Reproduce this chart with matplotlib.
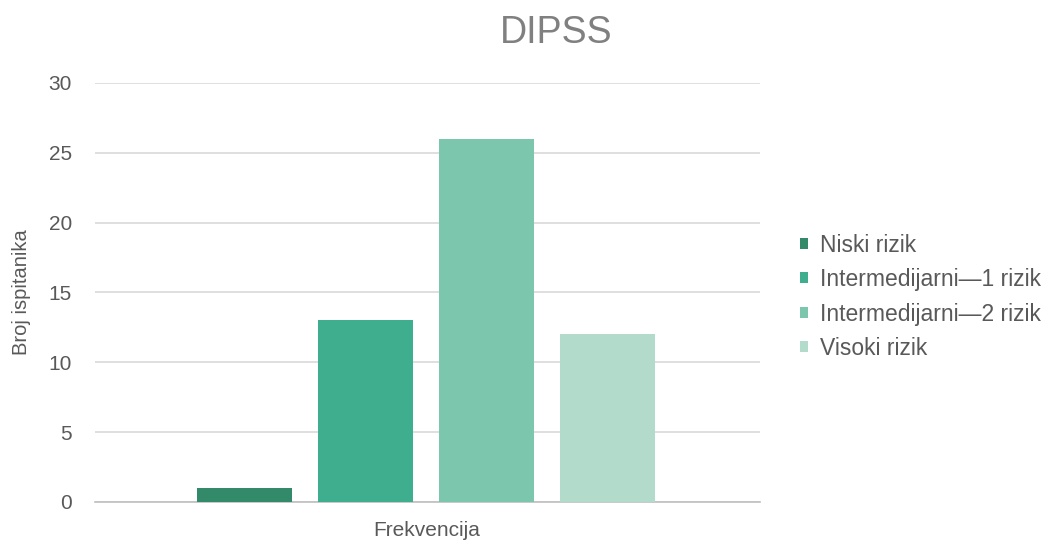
import matplotlib
matplotlib.use("Agg")
import matplotlib.pyplot as plt
from matplotlib.patches import Patch

plt.rcParams['font.family'] = ['Liberation Sans', 'DejaVu Sans']

title = "DIPSS"
category = "Frekvencija"
series = ["Niski rizik", "Intermedijarni\u20141 rizik", "Intermedijarni\u20142 rizik", "Visoki rizik"]
values = [1, 13, 26, 12]
colors = ["#338a6b", "#3fae8e", "#7cc6ad", "#b2dbcb"]
y_label = "Broj ispitanika"

fig = plt.figure(figsize=(10.58, 5.58), dpi=100)
ax = fig.add_axes([0.0898, 0.1004, 0.6285, 0.7509])

n = len(series)
width = 0.785
for i, (s, v, c) in enumerate(zip(series, values, colors)):
    ax.bar(i - (n - 1) / 2, v, width=width, color=c, label=s, zorder=3)

ax.set_xlim(-2.74, 2.76)
ax.set_ylim(0, 30)
ax.set_yticks(range(0, 31, 5))
ax.yaxis.grid(True, color="#d9d9d9", linewidth=1.2, zorder=0)
ax.set_xticks([0])
ax.set_xticklabels([category])
for sp in ["top", "right", "left"]:
    ax.spines[sp].set_visible(False)
ax.spines["bottom"].set_color("#bfbfbf")
ax.spines["bottom"].set_linewidth(1.2)
ax.tick_params(axis="y", length=0, pad=16.5, labelsize=15, labelcolor="#595959")
ax.tick_params(axis="x", length=0, pad=14, labelsize=15, labelcolor="#595959")
ax.set_ylabel(y_label, fontsize=14.5, color="#595959", labelpad=13)

fig.text(0.5255, 0.94, title, fontsize=27, color="#808080", ha="center", va="center")

handles = [Patch(facecolor=c, edgecolor="none") for c in colors]
fig.legend(handles, series, loc="center left", bbox_to_anchor=(0.737, 0.468),
           frameon=False, fontsize=16.5, labelcolor="#595959",
           handlelength=0.35, handleheight=0.35, handletextpad=0.5,
           labelspacing=0.5)

fig.savefig("out.png", dpi=100)
